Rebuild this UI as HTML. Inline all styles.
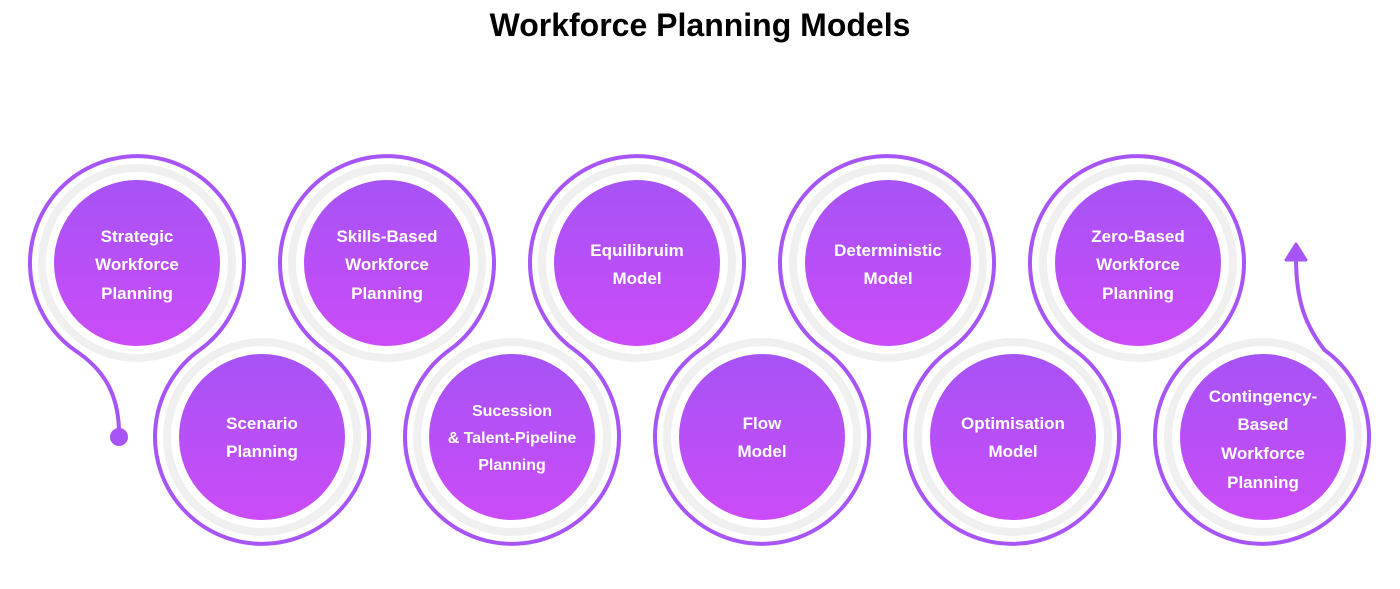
<!DOCTYPE html>
<html><head><meta charset="utf-8"><style>
html,body{margin:0;padding:0;background:#fff;width:1400px;height:589px;overflow:hidden}
text{font-family:"Liberation Sans",sans-serif}
</style></head><body>
<svg width="1400" height="589" viewBox="0 0 1400 589">
<defs>
<linearGradient id="g" x1="0" y1="0" x2="0" y2="1">
<stop offset="0" stop-color="#a653f6"/><stop offset="1" stop-color="#cb4cf8"/></linearGradient>
</defs>
<text x="700" y="36" text-anchor="middle" font-size="32" font-weight="bold" fill="#000">Workforce Planning Models</text>
<g fill="none" stroke="#f0f0f0" stroke-width="8">
<circle cx="137" cy="263" r="95"/><circle cx="387" cy="263" r="95"/><circle cx="637" cy="263" r="95"/><circle cx="888" cy="263" r="95"/><circle cx="1138" cy="263" r="95"/>
<circle cx="262" cy="437" r="95"/><circle cx="512" cy="437" r="95"/><circle cx="762" cy="437" r="95"/><circle cx="1013" cy="437" r="95"/><circle cx="1263" cy="437" r="95"/>
</g>
<path fill="none" stroke="#a855f7" stroke-width="4" stroke-linecap="round" stroke-linejoin="round" d="
M119 430 C118 395 105 370 74.5 350
A107 107 0 1 1 199.5 350
A107 107 0 1 0 324.5 350
A107 107 0 1 1 449.5 350
A107 107 0 1 0 574.5 350
A107 107 0 1 1 699.5 350
A107 107 0 1 0 824.5 350
A107 107 0 1 1 949.5 350
A107 107 0 1 0 1074.5 350
A107 107 0 1 1 1199.5 350
A107 107 0 1 0 1324.5 350
C1305 325 1296 300 1296 258"/>
<circle cx="119" cy="437" r="9" fill="#a855f7"/>
<path d="M1286 260 L1296 244 L1306 260 Z" fill="#a855f7" stroke="#a855f7" stroke-width="3" stroke-linejoin="round"/>
<g fill="url(#g)">
<circle cx="137" cy="263" r="83"/><circle cx="387" cy="263" r="83"/><circle cx="637" cy="263" r="83"/><circle cx="888" cy="263" r="83"/><circle cx="1138" cy="263" r="83"/>
<circle cx="262" cy="437" r="83"/><circle cx="512" cy="437" r="83"/><circle cx="762" cy="437" r="83"/><circle cx="1013" cy="437" r="83"/><circle cx="1263" cy="437" r="83"/>
</g>
<g fill="#fff" font-size="17" font-weight="bold" text-anchor="middle">
<text x="137" y="242">Strategic</text><text x="137" y="270">Workforce</text><text x="137" y="299">Planning</text>
<text x="387" y="242">Skills-Based</text><text x="387" y="270">Workforce</text><text x="387" y="299">Planning</text>
<text x="637" y="256">Equilibruim</text><text x="637" y="284">Model</text>
<text x="888" y="256">Deterministic</text><text x="888" y="284">Model</text>
<text x="1138" y="242">Zero-Based</text><text x="1138" y="270">Workforce</text><text x="1138" y="299">Planning</text>
<text x="262" y="429">Scenario</text><text x="262" y="457">Planning</text>
<text x="512" y="416" font-size="16">Sucession</text><text x="512" y="443" font-size="16">&amp; Talent-Pipeline</text><text x="512" y="470" font-size="16">Planning</text>
<text x="762" y="429">Flow</text><text x="762" y="457">Model</text>
<text x="1013" y="429">Optimisation</text><text x="1013" y="457">Model</text>
<text x="1263" y="402">Contingency-</text><text x="1263" y="430">Based</text><text x="1263" y="459">Workforce</text><text x="1263" y="488">Planning</text>
</g>
</svg>
</body></html>
